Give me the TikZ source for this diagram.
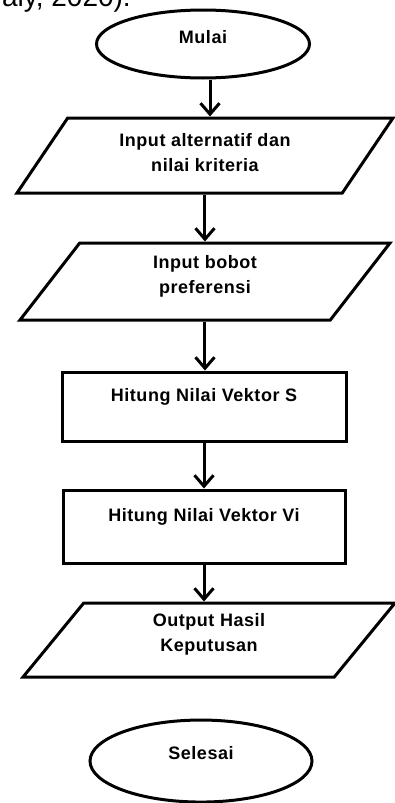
\documentclass[tikz,border=0pt]{standalone}
\usepackage{fontspec}
\setmainfont{Liberation Sans}
\newfontfamily\flowfont[LetterSpace=3]{Liberation Sans}
\usetikzlibrary{arrows.meta, positioning, shapes.geometric}

\begin{document}
\begin{tikzpicture}[
  x=1pt, y=-1pt,
  box/.style={draw, line width=3pt,
              font=\flowfont\bfseries\fontsize{18}{25}\selectfont},
  term/.style={box, ellipse, inner sep=0pt, text height=12pt},
  io/.style={box, trapezium, trapezium left angle=45,
             trapezium right angle=135, trapezium stretches body,
             align=center},
  proc/.style={box, rectangle, text height=12pt, text depth=23pt},
  arr/.style={-{Straight Barb[length=11pt, width=19pt]}, line width=3pt}
]
  \useasboundingbox (0,0) rectangle (395,803);

  % cut-off caption line above the chart
  \node[font=\fontsize{28}{30}\selectfont, anchor=base east, inner sep=0pt]
    (cite) at (131,6) {aly, 2020).};

  \node[term, minimum width=213pt, minimum height=68pt, text depth=13pt]
    (mulai) at (203,44) {Mulai};
  \node[io, minimum width=376pt, minimum height=75pt, text depth=6pt,
        below=37pt of mulai, xshift=2pt] (alt)
    {Input alternatif dan\\nilai kriteria};
  \node[io, minimum width=370pt, minimum height=77pt, text depth=15pt,
        below=47pt of alt] (bobot) {Input bobot\\preferensi};
  \node[proc, minimum width=284pt, minimum height=69pt,
        below=49pt of bobot, xshift=-1pt] (vs) {Hitung Nilai Vektor S};
  \node[proc, minimum width=282pt, minimum height=73pt,
        below=46pt of vs] (vi) {Hitung Nilai Vektor Vi};
  \node[io, minimum width=372pt, minimum height=74pt, text depth=16pt,
        below=37pt of vi, xshift=5pt] (hasil) {Output Hasil\\Keputusan};
  \node[term, minimum width=222pt, minimum height=82pt, text depth=16pt,
        below=40pt of hasil, xshift=-8pt] (selesai) {Selesai};

  \draw[arr] ([xshift=7pt]mulai.south) -- ([xshift=7pt]mulai.south |- alt.north);
  \draw[arr] (alt.center |- alt.south) -- (alt.center |- bobot.north);
  \draw[arr] (bobot.center |- bobot.south) -- (bobot.center |- vs.north);
  \draw[arr] (vs.south) -- (vs.south |- vi.north);
  \draw[arr] (vi.south) -- (vi.south |- hasil.north);
\end{tikzpicture}
\end{document}
